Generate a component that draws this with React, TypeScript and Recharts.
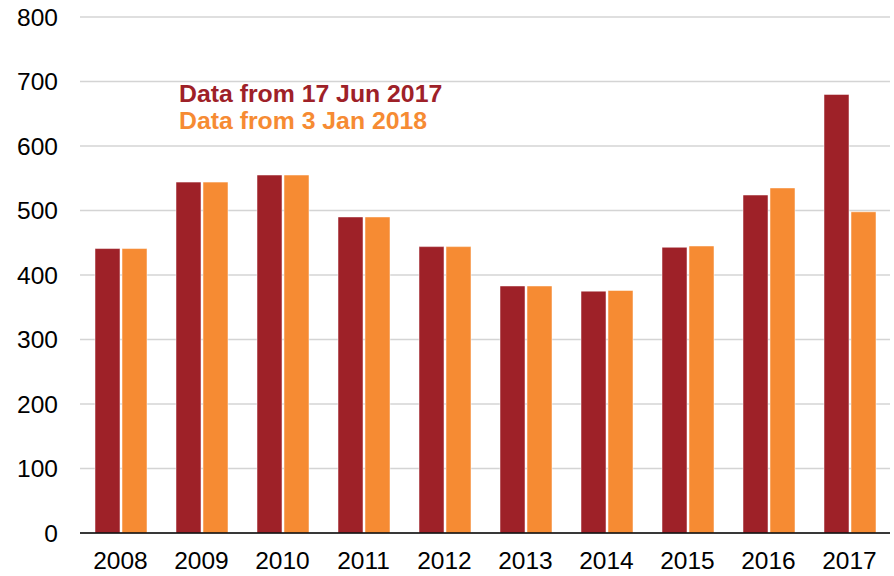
import { BarChart, Bar, XAxis, YAxis, CartesianGrid } from 'recharts'

const years = ['2008', '2009', '2010', '2011', '2012', '2013', '2014', '2015', '2016', '2017']
const june2017 = [441, 544, 555, 490, 444, 383, 375, 443, 524, 680]
const jan2018 = [441, 544, 555, 490, 444, 383, 376, 445, 535, 498]
const yTicks = [0, 100, 200, 300, 400, 500, 600, 700, 800]

const RED = '#9e2128'
const ORANGE = '#f68b33'
const FONT = 'Liberation Sans, Arial, sans-serif'

const chartData = years.map((y, i) => ({
  year: y,
  jun: june2017[i],
  jan: jan2018[i],
}))

function TextLegend() {
  return (
    <div style={{ position: 'absolute', left: 179, top: 80, fontFamily: FONT, fontWeight: 700, fontSize: 24.8, lineHeight: '27px' }}>
      <div style={{ color: RED }}>Data from 17 Jun 2017</div>
      <div style={{ color: ORANGE }}>Data from 3 Jan 2018</div>
    </div>
  )
}

export default function App() {
  const tickStyle = { fill: '#000', fontSize: 24.5, fontFamily: FONT }
  return (
    <div style={{ position: 'relative', width: 894, height: 576, background: '#fff' }}>
      <style>{`body{margin:0}`}</style>
      <BarChart
        width={894}
        height={576}
        data={chartData}
        margin={{ top: 17, right: 4, left: 0, bottom: 0 }}
        barSize={25}
        barGap={2}
      >
        <CartesianGrid vertical={false} stroke="#d4d4d4" strokeWidth={1.5} />
        <XAxis
          dataKey="year"
          height={43}
          tick={tickStyle}
          tickSize={0}
          tickMargin={19}
          tickLine={false}
          axisLine={{ stroke: '#000', strokeWidth: 1.5 }}
        />
        <YAxis
          width={80}
          domain={[0, 800]}
          ticks={yTicks}
          tick={tickStyle}
          tickSize={0}
          tickMargin={22}
          axisLine={false}
          tickLine={false}
        />
        <Bar dataKey="jun" fill={RED} stroke="#fff" strokeWidth={0.5} isAnimationActive={false} />
        <Bar dataKey="jan" fill={ORANGE} stroke="#fff" strokeWidth={0.5} isAnimationActive={false} />
      </BarChart>
      <TextLegend />
    </div>
  )
}
